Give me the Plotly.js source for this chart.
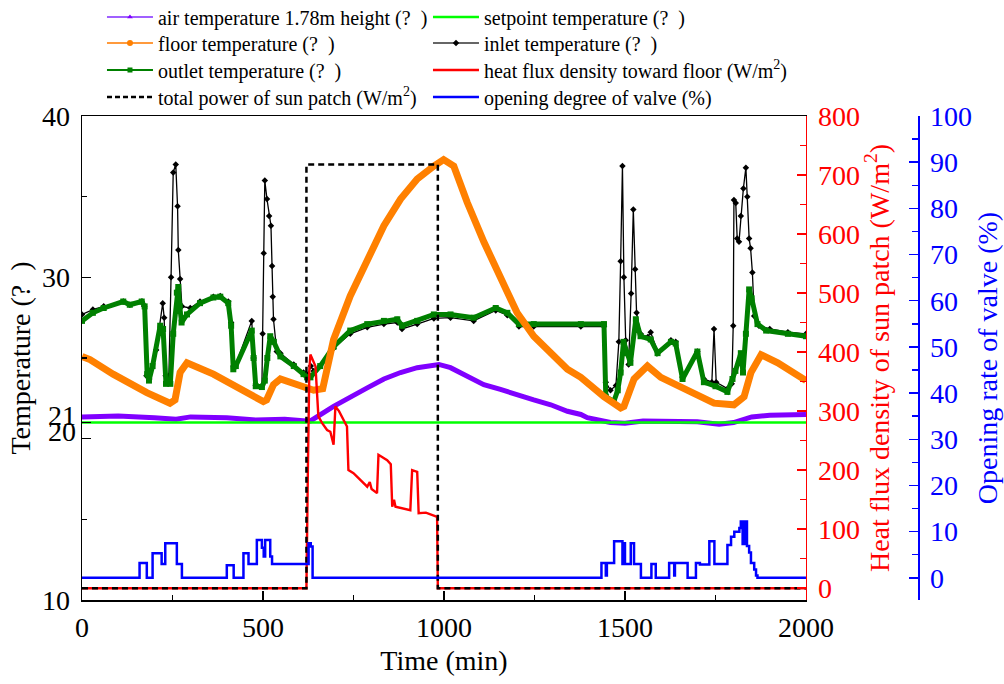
<!DOCTYPE html>
<html><head><meta charset="utf-8">
<script src="https://cdn.plot.ly/plotly-3.0.1.min.js"></script>
<style>html,body{margin:0;padding:0;background:#fff}#chart{width:1004px;height:684px}</style>
</head><body><div id="chart"></div>
<script>
// ---------- data ----------
const timeAir = [0,100,200,260,300,400,480,560,620,631,695,741,788,834,880,926,986,1018,1064,1110,1156,1202,1248,1295,1341,1378,1396,1460,1500,1550,1600,1650,1700,1760,1800,1850,1900,2000];
const airTemp = [21.35,21.4,21.3,21.2,21.35,21.3,21.15,21.2,21.1,21.1,22.0,22.6,23.15,23.7,24.1,24.4,24.6,24.4,23.9,23.35,23.05,22.7,22.4,22.1,21.7,21.5,21.3,21.0,20.95,21.1,21.1,21.1,21.05,20.9,21.0,21.35,21.45,21.5];

const timeSetpoint = [0,2000];
const setpointTemp = [21,21];

const timeFloor = [0,22,86,179,243,257,271,290,363,456,501,510,529,548,622,640,665,677,695,741,788,834,880,926,972,999,1027,1064,1110,1156,1202,1248,1295,1341,1378,1442,1488,1497,1525,1562,1599,1691,1746,1801,1829,1848,1876,1922,2000];
const floorTemp = [25.1,24.9,24.0,22.85,22.2,22.4,24.1,24.7,24.0,22.85,22.3,22.4,23.35,23.7,23.1,23.0,23.1,24.5,26.15,28.85,31.1,33.2,34.85,36.1,36.9,37.3,36.9,34.65,32.2,29.9,27.8,26.35,25.3,24.3,23.8,22.6,21.9,22.0,23.7,24.5,23.8,22.85,22.2,22.1,22.6,24.1,25.2,24.7,23.6];

const timeInlet = [0,30,60,114,132,165,172,178,186,205,223,227,231,240,246,252,259,264,266,271,276,299,326,363,382,404,412,418,425,469,474,480,497,499,502,505,511,517,522,525,527,529,538,548,585,612,625,632,640,658,695,741,788,834,871,884,926,972,1018,1082,1143,1175,1207,1248,1378,1442,1447,1460,1475,1483,1488,1493,1497,1502,1510,1517,1523,1528,1532,1543,1563,1571,1590,1627,1640,1659,1700,1718,1740,1746,1752,1783,1795,1799,1801,1806,1810,1815,1820,1827,1834,1838,1843,1847,1852,1857,1870,1900,1950,2000];
const inletTemp = [27.7,28.0,28.2,28.5,28.3,28.5,28.2,23.9,23.7,25.5,28.4,27.5,23.9,23.9,30.0,36.5,37.0,34.4,31.7,29.9,28.2,28.1,28.5,28.8,28.85,28.5,27.2,24.5,24.6,27.3,25.0,23.3,23.3,26.5,31.5,36.0,34.85,33.8,33.2,30.7,28.8,27.4,25.4,25.3,24.6,24.1,24.0,24.5,24.2,24.5,25.6,26.5,26.9,27.1,27.2,26.8,27.1,27.45,27.5,27.3,27.95,27.65,26.95,26.95,26.95,26.95,23.5,23.0,23.3,26.0,31.0,36.9,30.0,26.1,24.6,29.0,34.2,30.5,27.8,26.5,26.3,26.6,25.4,26.1,26.0,23.8,25.4,23.7,23.5,26.8,23.5,23.1,23.4,27.0,34.8,34.6,32.4,32.2,33.8,35.5,36.8,35.0,32.4,31.8,30.3,27.6,27.0,26.8,26.6,26.5];

const timeOutlet = [0,30,60,114,132,165,173,180,185,195,216,224,232,244,252,262,266,270,275,290,326,363,382,404,412,418,425,469,474,480,497,505,512,520,530,548,585,612,622,631,658,695,741,788,834,871,884,926,972,1018,1082,1143,1175,1207,1248,1378,1442,1447,1469,1480,1488,1496,1505,1515,1530,1543,1571,1590,1627,1640,1659,1700,1718,1750,1783,1797,1805,1820,1826,1834,1843,1850,1866,1890,1950,2000];
const outletTemp = [27.3,27.8,28.1,28.5,28.3,28.5,28.2,24.0,23.6,24.5,27.0,26.8,23.4,23.4,26.5,29.05,29.4,28.2,27.2,27.7,28.4,28.75,28.8,28.4,27.0,24.3,24.5,26.7,25.0,23.25,23.2,23.6,25.0,26.35,26.0,25.1,24.5,24.0,23.8,23.8,24.5,25.7,26.7,27.1,27.3,27.4,27.0,27.3,27.7,27.7,27.5,28.1,27.8,27.1,27.1,27.1,27.1,22.6,22.3,23.0,24.1,26.0,25.3,24.7,27.4,26.35,26.15,25.3,26.0,25.9,23.7,25.4,23.5,23.25,22.9,23.7,24.2,25.3,24.1,26.5,29.25,28.7,27.1,26.7,26.5,26.35];

const timeFlux = [0,620,624,628,631,645,653,663,677,686,695,700,710,732,736,750,788,795,800,815,819,843,853,857,862,866,907,912,926,930,950,981,983,2000];
const heatFlux = [0,0,200,370,396,376,291,280,268,265,243,308,300,274,200,195,172,180,168,161,226,217,210,138,150,138,132,200,197,127,128,121,0,0];

const timeSun = [0,620,620,983,983,2000];
const sunPower = [0,0,718,718,0,0];

const timeValve = [0,159,179,195,220,230,262,276,400,419,446,460,483,497,502,506,520,525,626,632,637,1435,1447,1450,1470,1493,1496,1500,1516,1525,1544,1573,1585,1622,1636,1638,1673,1696,1707,1733,1747,1783,1793,1802,1816,1820,1825,1831,1837,1843,1848,1857,1862,1866,2000];
const valveOpening = [0,3.2,0,5.3,3.0,7.5,3.0,0,2.7,0,5.3,3.0,8.2,6.5,4.6,8.2,4.6,3.0,7.5,6.8,0,3.2,0.5,3.2,7.9,3.0,7.5,3.0,7.5,3.0,0,3.0,0,3.2,0.5,3.2,0,3.2,2.9,7.9,3.0,7.1,8.9,10.0,10.8,12.2,7.3,12.2,6.9,5.5,3.2,1.8,0.5,0,0];

const tempTicks = [10,20,21,30,40];
const tempTickText = ['10','','','30','40'];
const tempCloseTicks = [20,21];          // labels drawn slightly raised, as in the reference
const tempMinorTicks = [15,25,35];

// ---------- styles ----------
const FONT = 'Liberation Serif, Times New Roman, serif';
const C = {air:'#8000ff', set:'#00ff00', floor:'#ff8000', inlet:'#000000', outlet:'#008000', flux:'#ff0000', sun:'#000000', valve:'#0000ff'};
const NB = '\u00a0\u00a0';
const COL1 = 265, COL2 = 380;

const traces = [
  {x:timeAir, y:airTemp, mode:'lines', line:{color:C.air, width:5}, showlegend:false, hoverinfo:'skip'},
  {x:timeSetpoint, y:setpointTemp, mode:'lines', line:{color:C.set, width:2.5}, showlegend:false, hoverinfo:'skip'},
  {x:timeInlet, y:inletTemp, mode:'lines+markers', line:{color:C.inlet, width:1.3}, marker:{symbol:'diamond', size:5, color:C.inlet}, showlegend:false, hoverinfo:'skip'},
  {x:timeOutlet, y:outletTemp, mode:'lines+markers', line:{color:C.outlet, width:5}, marker:{symbol:'square', size:6, color:C.outlet}, showlegend:false, hoverinfo:'skip'},
  {x:timeFloor, y:floorTemp, mode:'lines', line:{color:C.floor, width:7}, showlegend:false, hoverinfo:'skip'},
  {x:timeFlux, y:heatFlux, yaxis:'y2', mode:'lines', line:{color:C.flux, width:2.4}, showlegend:false, hoverinfo:'skip'},
  {x:timeSun, y:sunPower, yaxis:'y2', mode:'lines', line:{color:C.sun, width:2.5, dash:'6px,4px'}, showlegend:false, hoverinfo:'skip'},
  {x:timeValve, y:valveOpening, yaxis:'y3', mode:'lines', line:{color:C.valve, width:2.5, shape:'hv'}, showlegend:false, hoverinfo:'skip'},
  // carrier for the raised "20"/"21" tick labels
  {x:[null], y:[null], yaxis:'y4', mode:'lines', showlegend:false, hoverinfo:'skip'},
  // legend entries (4 rows x 2 columns)
  {x:[null], y:[null], legend:'legend', legendwidth:COL1, name:'air temperature 1.78m height (?'+NB+')', mode:'lines+markers', line:{color:'#a060ff', width:2}, marker:{color:C.air, size:5, symbol:'triangle-up'}},
  {x:[null], y:[null], legend:'legend', legendwidth:COL2, name:'setpoint temperature (?'+NB+')', mode:'lines', line:{color:C.set, width:2.5}},
  {x:[null], y:[null], legend:'legend2', legendwidth:COL1, name:'floor temperature (?'+NB+')', mode:'lines+markers', line:{color:'#ff9a3c', width:2}, marker:{color:C.floor, size:6, symbol:'circle'}},
  {x:[null], y:[null], legend:'legend2', legendwidth:COL2, name:'inlet temperature (?'+NB+')', mode:'lines+markers', line:{color:'#333', width:1.5}, marker:{color:'#000', size:5, symbol:'diamond'}},
  {x:[null], y:[null], legend:'legend3', legendwidth:COL1, name:'outlet temperature (?'+NB+')', mode:'lines+markers', line:{color:C.outlet, width:2}, marker:{color:C.outlet, size:5, symbol:'square'}},
  {x:[null], y:[null], legend:'legend3', legendwidth:COL2, name:'heat flux density toward floor (W/m<sup>2</sup>)', mode:'lines', line:{color:C.flux, width:2.5}},
  {x:[null], y:[null], legend:'legend4', legendwidth:COL1, name:'total power of sun patch (W/m<sup>2</sup>)', mode:'lines', line:{color:C.sun, width:2.5, dash:'5px,3px'}},
  {x:[null], y:[null], legend:'legend4', legendwidth:COL2, name:'opening degree of valve (%)', mode:'lines', line:{color:C.valve, width:2.5}}
];

const axisBase = {showgrid:false, zeroline:false, showline:true, linewidth:1.5, ticks:'inside', ticklen:9, tickwidth:1.5, ticklabelstandoff:5};
const legendBase = {orientation:'h', x:0.0239, xanchor:'left', yanchor:'middle',
  font:{family:FONT, size:20, color:'#000'}, itemwidth:46, bgcolor:'rgba(0,0,0,0)', borderwidth:0};
const rowY = Y => 1 + (116 - Y) / 484;

const layout = {
  width:1004, height:684,
  margin:{l:82, r:86, t:116, b:84, pad:0, autoexpand:false},
  paper_bgcolor:'#fff', plot_bgcolor:'#fff',
  font:{family:FONT, size:28, color:'#000'},
  showlegend:true,
  legend:Object.assign({}, legendBase, {y:rowY(17)}),
  legend2:Object.assign({}, legendBase, {y:rowY(43)}),
  legend3:Object.assign({}, legendBase, {y:rowY(70)}),
  legend4:Object.assign({}, legendBase, {y:rowY(97)}),
  xaxis:Object.assign({}, axisBase, {
    domain:[0,0.866], range:[0,2000], tick0:0, dtick:500, mirror:true, ticklabelstandoff:2,
    linecolor:'#000', tickcolor:'#000', tickfont:{family:FONT, size:28, color:'#000'},
    minor:{dtick:250, tick0:0, ticks:'inside', ticklen:5, tickwidth:1.5, tickcolor:'#000', showgrid:false},
    title:{text:'Time (min)', font:{family:FONT, size:28, color:'#000'}, standoff:8}
  }),
  yaxis:Object.assign({}, axisBase, {
    range:[10,40], tickmode:'array', tickvals:tempTicks, ticktext:tempTickText,
    linecolor:'#000', tickcolor:'#000', tickfont:{family:FONT, size:28, color:'#000'},
    minor:{tickmode:'array', tickvals:tempMinorTicks, ticks:'inside', ticklen:5, tickwidth:1.5, tickcolor:'#000', showgrid:false},
    title:{text:'Temperature (?'+NB+')', font:{family:FONT, size:28, color:'#000'}, standoff:3}
  }),
  yaxis4:{
    overlaying:'y', side:'left', anchor:'x', range:[10-0.45,40-0.45], tickmode:'array',
    tickvals:tempCloseTicks, ticktext:tempCloseTicks.map(String), ticks:'', showline:false,
    showgrid:false, zeroline:false, ticklabelstandoff:5, tickfont:{family:FONT, size:28, color:'#000'}
  },
  yaxis2:Object.assign({}, axisBase, {
    overlaying:'y', side:'right', anchor:'x', range:[-20,800], tick0:0, dtick:100,
    linecolor:'#ff0000', tickcolor:'#ff0000', tickfont:{family:FONT, size:28, color:'#ff0000'},
    minor:{dtick:50, tick0:0, ticks:'inside', ticklen:6, tickwidth:1.5, tickcolor:'#ff0000', showgrid:false},
    title:{text:'Heat flux density of sun patch (W/m<sup>2</sup>)', font:{family:FONT, size:28, color:'#ff0000'}, standoff:10}
  }),
  yaxis3:Object.assign({}, axisBase, {
    overlaying:'y', side:'right', anchor:'free', position:1, range:[-4.8,100], tick0:0, dtick:10,
    linecolor:'#0000ff', tickcolor:'#0000ff', tickfont:{family:FONT, size:28, color:'#0000ff'},
    minor:{dtick:5, tick0:0, ticks:'inside', ticklen:6, tickwidth:1.5, tickcolor:'#0000ff', showgrid:false},
    title:{text:'Opening rate of valve (%)', font:{family:FONT, size:28, color:'#0000ff'}, standoff:6}
  })
};

Plotly.newPlot('chart', traces, layout, {staticPlot:true, displayModeBar:false});
</script></body></html>
